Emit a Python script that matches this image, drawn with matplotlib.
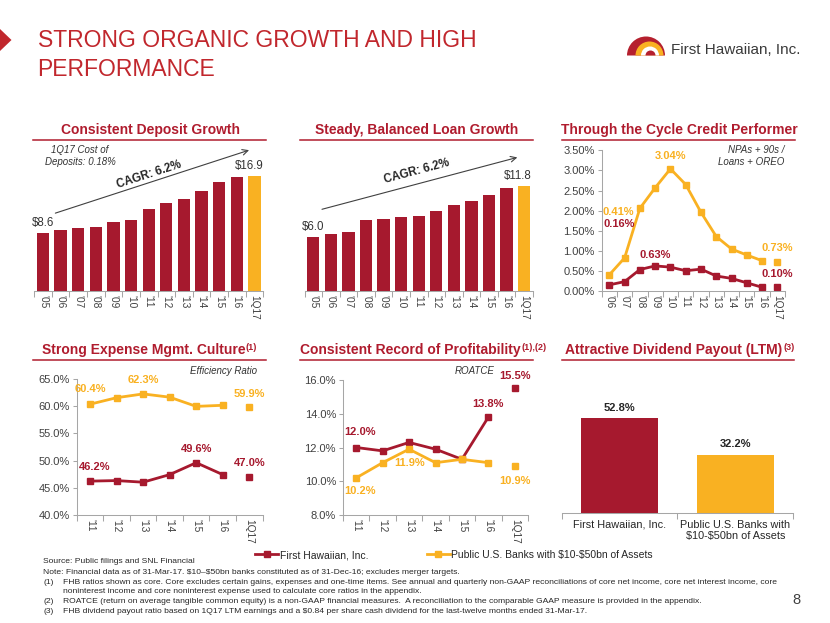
import numpy as np
import matplotlib.pyplot as plt
from matplotlib.patches import Wedge, Polygon
from matplotlib.lines import Line2D

plt.rcParams['font.family'] = ['Liberation Sans', 'DejaVu Sans']
plt.rcParams['text.parse_math'] = False

RED = '#A6192E'
YEL = '#F9B122'
TRED = '#C1272D'
HRED = '#B01C2E'
GRAY = '#A6A6A6'
TXT = '#404040'
DARK = '#262626'

W, H = 830, 623

# deposits / loans ($bn)
bar_years = ["'05", "'06", "'07", "'08", "'09", "'10", "'11", "'12", "'13", "'14", "'15", "'16", "1Q17"]
deposits = [8.6, 8.9, 9.2, 9.4, 10.2, 10.5, 12.1, 12.9, 13.6, 14.7, 16.0, 16.8, 16.9]
loans = [6.0, 6.4, 6.6, 7.9, 8.1, 8.3, 8.4, 9.0, 9.6, 10.1, 10.8, 11.5, 11.8]

# NPAs + 90s / Loans + OREO (%)
credit_years = ["'06", "'07", "'08", "'09", "'10", "'11", "'12", "'13", "'14", "'15", "'16", "1Q17"]
npa_fhb = [0.16, 0.24, 0.54, 0.63, 0.60, 0.51, 0.55, 0.38, 0.32, 0.21, 0.10, 0.10]
npa_peer = [0.41, 0.83, 2.06, 2.57, 3.04, 2.65, 1.96, 1.36, 1.05, 0.90, 0.76, 0.73]

# efficiency ratio / ROATCE (%)
ratio_years = ["'11", "'12", "'13", "'14", "'15", "'16", "1Q17"]
eff_fhb = [46.2, 46.3, 46.0, 47.4, 49.6, 47.4, 47.0]
eff_peer = [60.4, 61.6, 62.3, 61.7, 60.0, 60.2, 59.9]
roatce_fhb = [12.0, 11.8, 12.3, 11.9, 11.3, 13.8, 15.5]
roatce_peer = [10.2, 11.1, 11.9, 11.1, 11.3, 11.1, 10.9]

# dividend payout (LTM, %)
payout_names = ['First Hawaiian, Inc.', 'Public U.S. Banks with\n$10-$50bn of Assets']
payout = [52.8, 32.2]

series_names = ['First Hawaiian, Inc.', 'Public U.S. Banks with $10-$50bn of Assets']


def rect(l, t, r, b):
    return [l / W, 1 - b / H, (r - l) / W, (b - t) / H]


def cat_axis(ax, labels, rot=270, size=7.3):
    n = len(labels)
    ax.set_xlim(-0.5, n - 0.5)
    ax.set_xticks(range(n))
    ax.set_xticklabels(labels, rotation=rot, fontsize=size, color=TXT)
    ax.tick_params(axis='x', which='major', length=0, pad=3)
    ax.set_xticks(np.arange(-0.5, n), minor=True)
    ax.tick_params(axis='x', which='minor', length=4, color=GRAY, width=0.75)
    for s in ['top', 'right']:
        ax.spines[s].set_visible(False)
    for s in ['bottom', 'left']:
        ax.spines[s].set_color(GRAY)
        ax.spines[s].set_linewidth(0.75)
    ax.patch.set_alpha(0)


def bar_chart(ax, vals, ytop):
    x = np.arange(len(vals))
    cols = [RED] * (len(vals) - 1) + [YEL]
    ax.bar(x, vals, width=0.7, color=cols)
    ax.set_ylim(0, ytop)
    cat_axis(ax, bar_years)
    ax.spines['left'].set_visible(False)
    ax.set_yticks([])


def line_chart(ax, fhb, peer, yticks, fmt):
    x = np.arange(len(fhb))
    for vals, c in [(fhb, RED), (peer, YEL)]:
        ax.plot(x[:-1], vals[:-1], color=c, lw=2, marker='s', ms=5)
        ax.plot(x[-1:], vals[-1:], ls='none', color=c, marker='s', ms=5)
    ax.set_ylim(yticks[0], yticks[-1])
    ax.set_yticks(yticks)
    ax.set_yticklabels([fmt.format(v) for v in yticks])
    ax.tick_params(axis='y', length=3, color=GRAY, width=0.75, labelsize=8,
                   labelcolor=TXT, pad=2)


def lab(ax, i, vals, color, dx, dy, fmt):
    ax.annotate(fmt.format(vals[i]), (i, vals[i]), xytext=(dx, dy),
                textcoords='offset points', ha='center', va='center',
                fontsize=8, fontweight='bold', color=color)


fig = plt.figure(figsize=(8.3, 6.23), dpi=100)

# overlay in pixel coordinates
ov = fig.add_axes([0, 0, 1, 1])
ov.set_xlim(0, W)
ov.set_ylim(H, 0)
ov.axis('off')

# slide header
ov.add_patch(Polygon([(0, 29), (11.5, 40), (0, 51)], closed=True, color=TRED, lw=0))
ov.text(37.5, 46.7, 'STRONG ORGANIC GROWTH AND HIGH', fontsize=16.5, color=TRED, va='baseline')
ov.text(37.5, 75.5, 'PERFORMANCE', fontsize=16.5, color=TRED, va='baseline')

# logo
ov.add_patch(Wedge((646, 55.5), 19, 180, 360, color='#B5202E', lw=0))
ov.add_patch(Wedge((649.5, 55.5), 14, 180, 360, color=YEL, lw=0))
ov.add_patch(Wedge((650, 55.5), 9, 180, 360, color='white', lw=0))
ov.add_patch(Wedge((650.5, 55.5), 5, 180, 360, color='#B5202E', lw=0))
ov.text(670.5, 50, 'First Hawaiian, Inc.', fontsize=11, color='#3A3A3A', va='center')

# panel titles + underlines
titles = [
    ('Consistent Deposit Growth', None, 150, 134, 33, 266, 140),
    ('Steady, Balanced Loan Growth', None, 416.7, 134, 300, 533, 140),
    ('Through the Cycle Credit Performer', None, 679, 134, 562, 795, 140),
    ('Strong Expense Mgmt. Culture', '(1)', 143.4, 354.3, 33, 266, 359.5),
    ('Consistent Record of Profitability', '(1),(2)', 410, 354.3, 300, 533, 359.5),
    ('Attractive Dividend Payout (LTM)', '(3)', 673.8, 354.3, 562, 794, 359.5),
]
for txt, sup, cx, by, x0, x1, ly in titles:
    t = ov.text(cx, by, txt, fontsize=10, fontweight='bold', color=HRED,
                ha='center', va='baseline')
    if sup:
        ov.annotate(sup, xy=(1, 1), xycoords=t, xytext=(0.5, 0.5),
                    textcoords='offset points', ha='left', va='top',
                    fontsize=6.5, fontweight='bold', color=HRED)
    ov.plot([x0, x1], [ly, ly], color=HRED, lw=1.1)

# ---- deposits
ax1 = fig.add_axes(rect(34.2, 150, 263.2, 290.7))
bar_chart(ax1, deposits, 20.8)
ax1.annotate('$%.1f' % deposits[0], (0, deposits[0]), xytext=(0, 7.2),
             textcoords='offset points', ha='center', va='center', fontsize=8.3, color='#333333')
ax1.annotate('$%.1f' % deposits[-1], (12, deposits[-1]), xytext=(-3.5, 7.4),
             textcoords='offset points', ha='center', va='center', fontsize=8.3, color='#333333')
ov.annotate('', xy=(251.7, 149.3), xytext=(52.7, 214),
            arrowprops=dict(arrowstyle='->', color='#404040', lw=0.8))
ov.text(149, 175, 'CAGR: 6.2%', rotation=18, fontsize=8.3, fontweight='bold',
        color=DARK, ha='center', va='center')
ov.text(80, 150, '1Q17 Cost of', fontsize=7, style='italic', color='#333333', ha='center', va='center')
ov.text(80, 161.7, 'Deposits: 0.18%', fontsize=7, style='italic', color='#333333', ha='center', va='center')

# ---- loans
ax2 = fig.add_axes(rect(304.5, 150, 533, 290.7))
bar_chart(ax2, loans, 15.8)
ax2.annotate('$%.1f' % loans[0], (0, loans[0]), xytext=(0, 7.2),
             textcoords='offset points', ha='center', va='center', fontsize=8.3, color='#333333')
ax2.annotate('$%.1f' % loans[-1], (12, loans[-1]), xytext=(-4.9, 7),
             textcoords='offset points', ha='center', va='center', fontsize=8.3, color='#333333')
ov.annotate('', xy=(520, 156.7), xytext=(319.3, 210),
            arrowprops=dict(arrowstyle='->', color='#404040', lw=0.8))
ov.text(417, 171.7, 'CAGR: 6.2%', rotation=15, fontsize=8.3, fontweight='bold',
        color=DARK, ha='center', va='center')

# ---- credit
ax3 = fig.add_axes(rect(601.7, 150.3, 785, 291.3))
cat_axis(ax3, credit_years)
line_chart(ax3, npa_fhb, npa_peer, [0, 0.5, 1.0, 1.5, 2.0, 2.5, 3.0, 3.5], '{:.2f}%')
f2 = '{:.2f}%'
lab(ax3, 0, npa_peer, YEL, 6.5, 45.4, f2)
lab(ax3, 0, npa_fhb, RED, 7, 43.8, f2)
lab(ax3, 4, npa_peer, YEL, 0, 9.2, f2)
lab(ax3, 3, npa_fhb, RED, 0, 8, f2)
lab(ax3, 11, npa_peer, YEL, 0, 9.8, f2)
lab(ax3, 11, npa_fhb, RED, 0, 9.6, f2)
ov.text(784, 150, 'NPAs + 90s /', fontsize=7, style='italic', color='#333333', ha='right', va='center')
ov.text(784, 161.7, 'Loans + OREO', fontsize=7, style='italic', color='#333333', ha='right', va='center')

# ---- efficiency
ax4 = fig.add_axes(rect(76.7, 379.3, 262.6, 514.7))
cat_axis(ax4, ratio_years)
line_chart(ax4, eff_fhb, eff_peer, [40, 45, 50, 55, 60, 65], '{:.1f}%')
f1 = '{:.1f}%'
lab(ax4, 0, eff_peer, YEL, 0, 11, f1)
lab(ax4, 2, eff_peer, YEL, 0, 10, f1)
lab(ax4, 6, eff_peer, YEL, 0, 9.3, f1)
lab(ax4, 0, eff_fhb, RED, 3.6, 10.4, f1)
lab(ax4, 4, eff_fhb, RED, 0, 9.9, f1)
lab(ax4, 6, eff_fhb, RED, 0, 10.2, f1)
ov.text(256.7, 370.7, 'Efficiency Ratio', fontsize=7, style='italic', color='#333333', ha='right', va='center')

# ---- ROATCE
ax5 = fig.add_axes(rect(343, 380, 528, 515))
cat_axis(ax5, ratio_years)
line_chart(ax5, roatce_fhb, roatce_peer, [8, 10, 12, 14, 16], '{:.1f}%')
lab(ax5, 0, roatce_fhb, RED, 3, 11, f1)
lab(ax5, 5, roatce_fhb, RED, 0, 9.4, f1)
lab(ax5, 6, roatce_fhb, RED, 0, 9.1, f1)
lab(ax5, 0, roatce_peer, YEL, 3, -9.2, f1)
lab(ax5, 2, roatce_peer, YEL, 0, -10.2, f1)
lab(ax5, 6, roatce_peer, YEL, 0, -10.5, f1)
ov.text(475, 370.7, 'ROATCE', fontsize=7, style='italic', color='#333333', ha='center', va='center')

# ---- dividend payout
ax6 = fig.add_axes(rect(561.7, 370, 793.2, 512.7))
ax6.bar(range(2), payout, width=0.67, color=[RED, YEL])
ax6.set_ylim(0, 79.5)
cat_axis(ax6, payout_names, rot=0, size=7.8)
ax6.tick_params(axis='x', which='major', pad=5, labelcolor=DARK)
ax6.spines['left'].set_visible(False)
ax6.set_yticks([])
for i, v in enumerate(payout):
    ax6.annotate('%.1f%%' % v, (i, v), xytext=(0, 7.5), textcoords='offset points',
                 ha='center', va='center', fontsize=8, fontweight='bold', color=DARK)

# legend
handles = [Line2D([], [], color=RED, lw=2, marker='s', ms=4.5),
           Line2D([], [], color=YEL, lw=2, marker='s', ms=4.5)]
fig.legend(handles, series_names, ncol=2, loc='center',
           bbox_to_anchor=(454 / W, 1 - 555 / H), frameon=False, fontsize=7.5,
           handlelength=2.2, handletextpad=0.15, columnspacing=5.6,
           borderpad=0, borderaxespad=0, labelcolor=DARK)

# footnotes
notes = [
    (43.3, 561.7, 'Source: Public filings and SNL Financial'),
    (43.3, 572.3, 'Note: Financial data as of 31-Mar-17. $10\u2013$50bn banks constituted as of 31-Dec-16; excludes merger targets.'),
    (43.3, 582.3, '(1)'),
    (63.3, 582.3, 'FHB ratios shown as core. Core excludes certain gains, expenses and one-time items. See annual and quarterly non-GAAP reconciliations of core net income, core net interest income, core'),
    (63.3, 591.7, 'noninterest income and core noninterest expense used to calculate core ratios in the appendix.'),
    (43.3, 601.7, '(2)'),
    (63.3, 601.7, 'ROATCE (return on average tangible common equity) is a non-GAAP financial measures.  A reconciliation to the comparable GAAP measure is provided in the appendix.'),
    (43.3, 611.3, '(3)'),
    (63.3, 611.3, 'FHB dividend payout ratio based on 1Q17 LTM earnings and a $0.84 per share cash dividend for the last-twelve months ended 31-Mar-17.'),
]
for x, y, s in notes:
    ov.text(x, y, s, fontsize=6.1, color=DARK, ha='left', va='center')
ov.text(796.7, 600, '8', fontsize=10.5, color=TXT, ha='center', va='center')

fig.savefig('out.png', dpi=100)
